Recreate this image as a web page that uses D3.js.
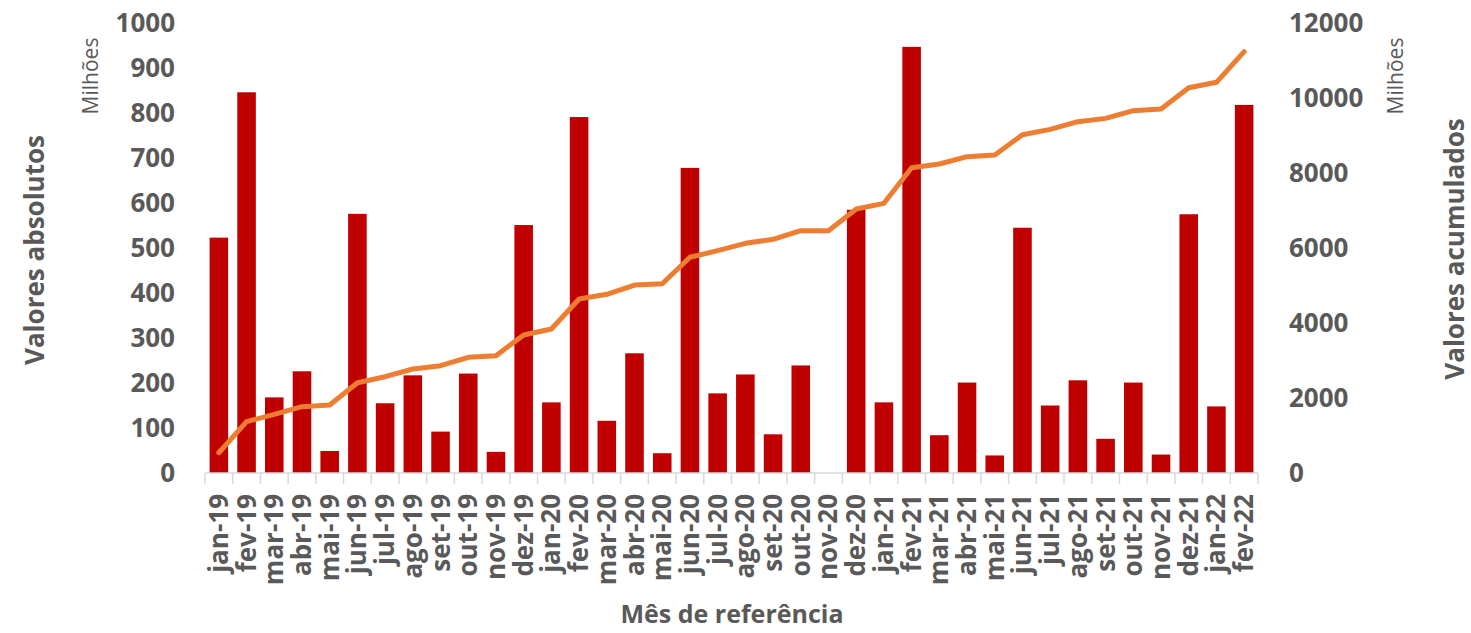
<!DOCTYPE html>
<html>
<head>
<meta charset="utf-8">
<script src="https://cdn.jsdelivr.net/npm/d3@7"></script>
<style>
  body { margin: 0; background: #fff; }
  text { font-family: "Open Sans", sans-serif; }
</style>
</head>
<body>
<div id="chart"></div>
<script>
// Month labels
const months = [
  'jan-19','fev-19','mar-19','abr-19','mai-19','jun-19','jul-19','ago-19','set-19','out-19','nov-19','dez-19',
  'jan-20','fev-20','mar-20','abr-20','mai-20','jun-20','jul-20','ago-20','set-20','out-20','nov-20','dez-20',
  'jan-21','fev-21','mar-21','abr-21','mai-21','jun-21','jul-21','ago-21','set-21','out-21','nov-21','dez-21',
  'jan-22','fev-22'
];

// Monthly absolute values (millions)
const absolutos = [
  523, 846, 168, 226, 49, 576, 155, 217, 92, 221, 47, 551,
  157, 791, 116, 266, 44, 678, 177, 219, 86, 239, 0, 585,
  157, 947, 84, 201, 39, 545, 150, 206, 76, 201, 41, 575,
  148, 818
];

// Cumulative values (millions)
const acumulados = [
  541, 1368, 1565, 1768, 1813, 2408, 2568, 2773, 2861, 3085, 3128, 3680,
  3840, 4640, 4765, 5013, 5048, 5752, 5930, 6125, 6231, 6461, 6461, 7040,
  7191, 8141, 8240, 8435, 8480, 9021, 9163, 9368, 9457, 9661, 9707, 10275,
  10418, 11235
];

const leftTicks = [0, 100, 200, 300, 400, 500, 600, 700, 800, 900, 1000];
const rightTicks = [0, 2000, 4000, 6000, 8000, 10000, 12000];

const width = 1471, height = 633;
const margin = { top: 23, right: 213, bottom: 160, left: 205 };
const textColor = '#595959';

const svg = d3.select('#chart').append('svg')
  .attr('width', width)
  .attr('height', height);

const x = d3.scaleBand()
  .domain(months)
  .range([margin.left, width - margin.right])
  .paddingInner(0.33)
  .paddingOuter(0.165);

const yLeft = d3.scaleLinear()
  .domain([0, 1000])
  .range([height - margin.bottom, margin.top]);

const yRight = d3.scaleLinear()
  .domain([0, 12000])
  .range([height - margin.bottom, margin.top]);

const baseY = height - margin.bottom;

// Bars
svg.append('g')
  .selectAll('rect')
  .data(absolutos)
  .join('rect')
  .attr('x', (d, i) => x(months[i]))
  .attr('y', d => yLeft(d))
  .attr('width', x.bandwidth())
  .attr('height', d => baseY - yLeft(d))
  .attr('fill', '#C00000');

// Category axis line + ticks between categories
const step = x.step();
const axisG = svg.append('g');
axisG.append('line')
  .attr('x1', margin.left).attr('x2', width - margin.right)
  .attr('y1', baseY).attr('y2', baseY)
  .attr('stroke', '#D9D9D9').attr('stroke-width', 1.5);

axisG.selectAll('line.tick')
  .data(d3.range(months.length + 1))
  .join('line')
  .attr('class', 'tick')
  .attr('x1', i => margin.left + i * step)
  .attr('x2', i => margin.left + i * step)
  .attr('y1', baseY)
  .attr('y2', baseY + 11)
  .attr('stroke', '#D9D9D9').attr('stroke-width', 1.5);

// Month labels (rotated)
axisG.selectAll('text')
  .data(months)
  .join('text')
  .attr('transform', d => `translate(${x(d) + x.bandwidth() / 2 + 9},${baseY + 21}) rotate(-90)`)
  .attr('text-anchor', 'end')
  .attr('font-size', '26px')
  .attr('font-weight', 'bold')
  .attr('fill', textColor)
  .text(d => d);

// Cumulative line
const line = d3.line()
  .x((d, i) => x(months[i]) + x.bandwidth() / 2)
  .y(d => yRight(d));

svg.append('path')
  .datum(acumulados)
  .attr('d', line)
  .attr('fill', 'none')
  .attr('stroke', '#ED7D31')
  .attr('stroke-width', 5)
  .attr('stroke-linecap', 'round')
  .attr('stroke-linejoin', 'round');

// Left axis labels
svg.append('g')
  .selectAll('text')
  .data(leftTicks)
  .join('text')
  .attr('x', 175)
  .attr('y', d => yLeft(d))
  .attr('dy', '0.36em')
  .attr('text-anchor', 'end')
  .attr('font-size', '26px')
  .attr('font-weight', 'bold')
  .attr('fill', textColor)
  .text(d => d);

// Right axis labels
svg.append('g')
  .selectAll('text')
  .data(rightTicks)
  .join('text')
  .attr('x', 1289)
  .attr('y', d => yRight(d))
  .attr('dy', '0.36em')
  .attr('text-anchor', 'start')
  .attr('font-size', '26px')
  .attr('font-weight', 'bold')
  .attr('fill', textColor)
  .text(d => d);

// Unit labels
[[98, 'Milhões'], [1403, 'Milhões']].forEach(([px, t]) => {
  svg.append('text')
    .attr('transform', `translate(${px},76) rotate(-90)`)
    .attr('text-anchor', 'middle')
    .attr('font-size', '21px')
    .attr('fill', textColor)
    .text(t);
});

// Axis titles
svg.append('text')
  .attr('transform', 'translate(44,250) rotate(-90)')
  .attr('text-anchor', 'middle')
  .attr('font-size', '26px')
  .attr('font-weight', 'bold')
  .attr('fill', textColor)
  .text('Valores absolutos');

svg.append('text')
  .attr('transform', 'translate(1464,249) rotate(-90)')
  .attr('text-anchor', 'middle')
  .attr('font-size', '26px')
  .attr('font-weight', 'bold')
  .attr('fill', textColor)
  .text('Valores acumulados');

svg.append('text')
  .attr('x', 732)
  .attr('y', 623)
  .attr('text-anchor', 'middle')
  .attr('font-size', '25px')
  .attr('font-weight', 'bold')
  .attr('fill', textColor)
  .text('Mês de referência');
</script>
</body>
</html>
